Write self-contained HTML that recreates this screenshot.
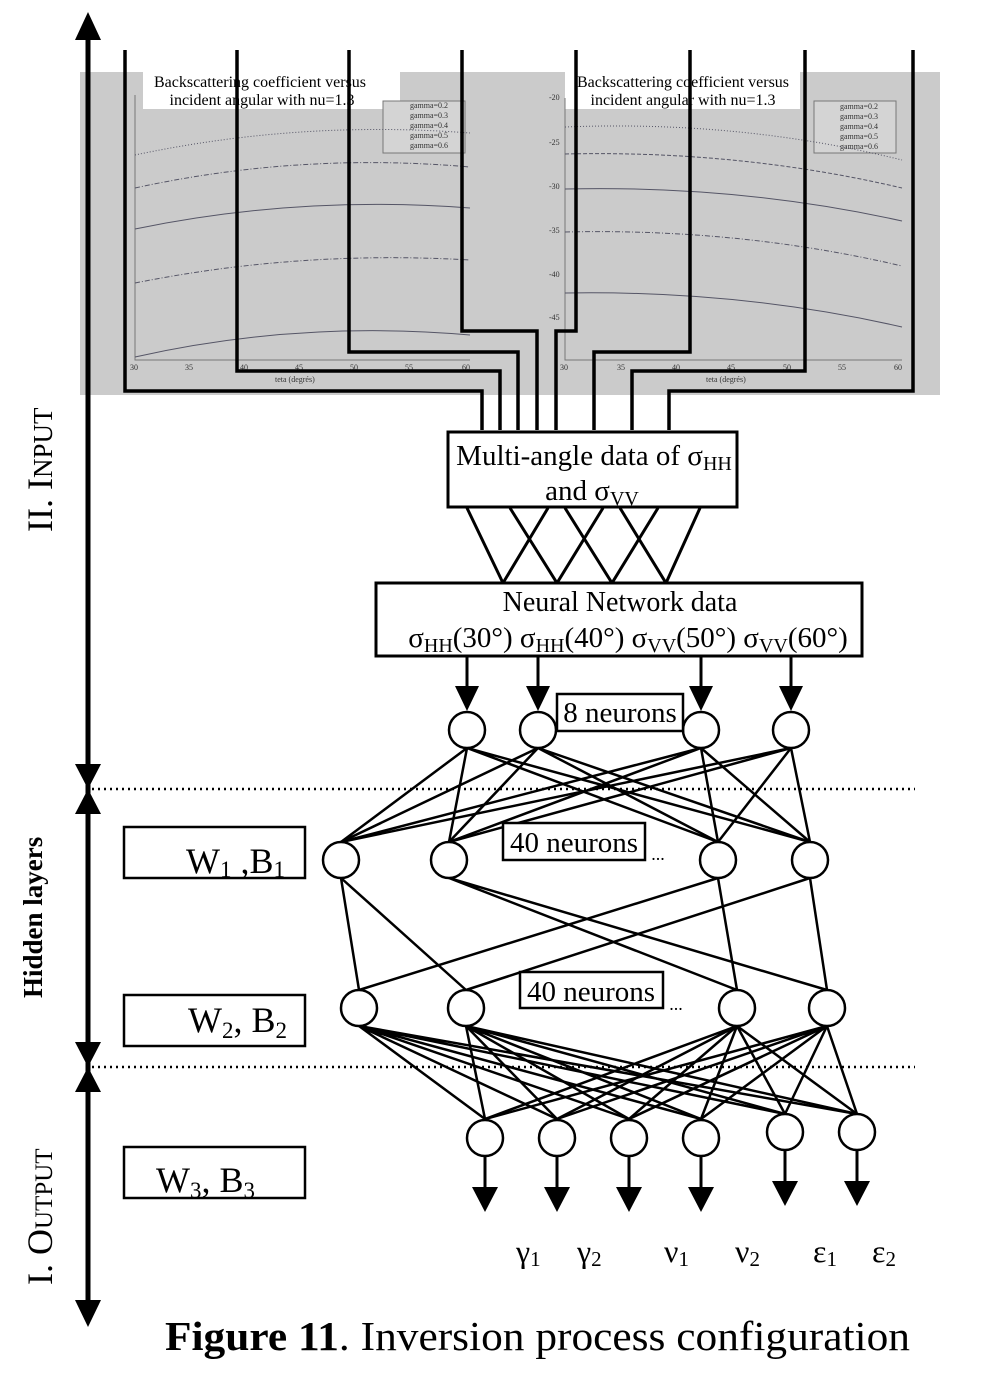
<!DOCTYPE html>
<html><head><meta charset="utf-8"><style>
html,body{margin:0;padding:0;background:#fff}
svg{display:block}
text{font-family:"Liberation Serif",serif}
</style></head><body>
<svg width="1000" height="1382" viewBox="0 0 1000 1382" xmlns="http://www.w3.org/2000/svg">
<rect x="80" y="72" width="860" height="323" fill="#cbcbcb"/>
<rect x="143" y="72" width="257" height="37" fill="#fff"/>
<rect x="565" y="72" width="235" height="37" fill="#fff"/>
<g font-size="16" text-anchor="middle" fill="#000">
<text x="260" y="87">Backscattering coefficient versus</text>
<text x="262" y="105">incident angular with nu=1.3</text>
<text x="683" y="87">Backscattering coefficient versus</text>
<text x="683" y="105">incident angular with nu=1.3</text>
</g>
<g stroke="#777" stroke-width="1" fill="none">
<path d="M135,95V360H470"/><path d="M565,98V360H902"/>
<rect x="383" y="101" width="82" height="52" fill="#d4d4d4"/>
<rect x="814" y="101" width="82" height="52" fill="#d4d4d4"/>
</g>
<g font-family="Liberation Sans,sans-serif" font-size="8" fill="#333">
<text x="410" y="108">gamma=0.2</text><text x="410" y="118">gamma=0.3</text><text x="410" y="128">gamma=0.4</text><text x="410" y="138">gamma=0.5</text><text x="410" y="148">gamma=0.6</text>
<text x="840" y="109">gamma=0.2</text><text x="840" y="119">gamma=0.3</text><text x="840" y="129">gamma=0.4</text><text x="840" y="139">gamma=0.5</text><text x="840" y="149">gamma=0.6</text>
<text x="275" y="382">teta (degrés)</text><text x="706" y="382">teta (degrés)</text>
<text x="130" y="370">30</text><text x="185" y="370">35</text><text x="240" y="370">40</text><text x="295" y="370">45</text><text x="350" y="370">50</text><text x="405" y="370">55</text><text x="462" y="370">60</text>
<text x="560" y="370">30</text><text x="617" y="370">35</text><text x="672" y="370">40</text><text x="727" y="370">45</text><text x="783" y="370">50</text><text x="838" y="370">55</text><text x="894" y="370">60</text>
<text x="549" y="100">-20</text><text x="549" y="145">-25</text><text x="549" y="189">-30</text><text x="549" y="233">-35</text><text x="549" y="277">-40</text><text x="549" y="320">-45</text>
</g>
<g stroke="#556" stroke-width="1" fill="none">
<path d="M135,155Q300,120 470,133" stroke-dasharray="1,2"/>
<path d="M135,188Q300,152 470,167" stroke-dasharray="5,2,1,2"/>
<path d="M135,229Q300,195 470,208"/>
<path d="M135,283Q300,250 470,260" stroke-dasharray="5,2,1,2"/>
<path d="M135,357Q300,320 470,335"/>
<path d="M565,127Q740,120 902,160" stroke-dasharray="1,2"/>
<path d="M565,154Q740,150 902,188" stroke-dasharray="4,2"/>
<path d="M565,189Q740,185 902,221"/>
<path d="M565,232Q740,228 902,266" stroke-dasharray="5,2,1,2"/>
<path d="M565,293Q740,290 902,327"/>
</g>
<g stroke="#000" stroke-width="3.5" fill="none">
<path d="M125,50V391H482V430"/>
<path d="M237,50V371H500V430"/>
<path d="M349,50V352H518V430"/>
<path d="M462,50V331H537V430"/>
<path d="M576,50V331H556V430"/>
<path d="M690,50V352H594V430"/>
<path d="M805,50V371H632V430"/>
<path d="M913,50V391H669V430"/>
</g>
<rect x="448" y="432" width="289" height="75" fill="#fff" stroke="#000" stroke-width="3"/>
<text x="594" y="465" font-size="29" text-anchor="middle">Multi-angle data of σ<tspan font-size="20" dy="5">HH</tspan></text>
<text x="592" y="500" font-size="29" text-anchor="middle">and σ<tspan font-size="20" dy="5">VV</tspan></text>
<g stroke="#000" stroke-width="3" fill="none">
<path d="M467,508L503,583L548,508"/><path d="M510,508L557,583L603,508"/><path d="M565,508L612,583L658,508"/><path d="M620,508L666,583L700,508"/>
</g>
<rect x="376" y="583" width="486" height="73" fill="#fff" stroke="#000" stroke-width="3"/>
<text x="620" y="611" font-size="28" text-anchor="middle">Neural Network data</text>
<text x="628" y="647" font-size="29" text-anchor="middle">σ<tspan font-size="20" dy="5">HH</tspan><tspan dy="-5">(30°) σ</tspan><tspan font-size="20" dy="5">HH</tspan><tspan dy="-5">(40°) σ</tspan><tspan font-size="20" dy="5">VV</tspan><tspan dy="-5">(50°) σ</tspan><tspan font-size="20" dy="5">VV</tspan><tspan dy="-5">(60°)</tspan></text>
<g stroke="#000" stroke-width="3">
<line x1="467" y1="656" x2="467" y2="690"/><line x1="538" y1="656" x2="538" y2="690"/><line x1="701" y1="656" x2="701" y2="690"/><line x1="791" y1="656" x2="791" y2="690"/>
</g>
<g fill="#000">
<path d="M455,686H479L467,711z"/><path d="M526,686H550L538,711z"/><path d="M689,686H713L701,711z"/><path d="M779,686H803L791,711z"/>
</g>
<g stroke="#000" stroke-width="2.5" fill="none">
<path d="M467,748L341,842M467,748L449,842M467,748L718,842M467,748L810,842"/>
<path d="M538,748L341,842M538,748L449,842M538,748L718,842M538,748L810,842"/>
<path d="M701,748L341,842M701,748L449,842M701,748L718,842M701,748L810,842"/>
<path d="M791,748L341,842M791,748L449,842M791,748L718,842M791,748L810,842"/>
<path d="M341,878L359,990M341,878L466,990M449,878L827,990M449,878L737,990M718,878L359,990M718,878L737,990M810,878L466,990M810,878L827,990"/>
<path d="M359,1026L485,1119M359,1026L557,1119M359,1026L629,1119M359,1026L701,1119M359,1026L785,1114M359,1026L857,1114"/>
<path d="M466,1026L485,1119M466,1026L557,1119M466,1026L629,1119M466,1026L701,1119M466,1026L785,1114M466,1026L857,1114"/>
<path d="M737,1026L485,1119M737,1026L557,1119M737,1026L629,1119M737,1026L701,1119M737,1026L785,1114M737,1026L857,1114"/>
<path d="M827,1026L485,1119M827,1026L557,1119M827,1026L629,1119M827,1026L701,1119M827,1026L785,1114M827,1026L857,1114"/>
</g>
<g fill="#fff" stroke="#000" stroke-width="2.5">
<circle cx="467" cy="730" r="18"/><circle cx="538" cy="730" r="18"/><circle cx="701" cy="730" r="18"/><circle cx="791" cy="730" r="18"/>
<circle cx="341" cy="860" r="18"/><circle cx="449" cy="860" r="18"/><circle cx="718" cy="860" r="18"/><circle cx="810" cy="860" r="18"/>
<circle cx="359" cy="1008" r="18"/><circle cx="466" cy="1008" r="18"/><circle cx="737" cy="1008" r="18"/><circle cx="827" cy="1008" r="18"/>
<circle cx="485" cy="1138" r="18"/><circle cx="557" cy="1138" r="18"/><circle cx="629" cy="1138" r="18"/><circle cx="701" cy="1138" r="18"/><circle cx="785" cy="1132" r="18"/><circle cx="857" cy="1132" r="18"/>
</g>
<g stroke="#000" stroke-width="3">
<line x1="485" y1="1156" x2="485" y2="1190"/><line x1="557" y1="1156" x2="557" y2="1190"/><line x1="629" y1="1156" x2="629" y2="1190"/><line x1="701" y1="1156" x2="701" y2="1190"/><line x1="785" y1="1150" x2="785" y2="1184"/><line x1="857" y1="1150" x2="857" y2="1184"/>
</g>
<g fill="#000">
<path d="M472,1187H498L485,1212z"/><path d="M544,1187H570L557,1212z"/><path d="M616,1187H642L629,1212z"/><path d="M688,1187H714L701,1212z"/><path d="M772,1181H798L785,1206z"/><path d="M844,1181H870L857,1206z"/>
</g>
<g fill="#fff" stroke="#000" stroke-width="2.5">
<rect x="557" y="694" width="126" height="37"/><rect x="503" y="823" width="142" height="37"/><rect x="520" y="972" width="143" height="36"/>
</g>
<g font-size="29" text-anchor="middle">
<text x="620" y="722">8 neurons</text><text x="574" y="852">40 neurons</text><text x="591" y="1001">40 neurons</text>
<text x="658" y="860" font-size="18">...</text><text x="676" y="1010" font-size="18">...</text>
</g>
<g stroke="#000" stroke-width="2.5" stroke-dasharray="2,4">
<line x1="92" y1="789" x2="915" y2="789"/><line x1="92" y1="1067" x2="915" y2="1067"/>
</g>
<line x1="88" y1="35" x2="88" y2="1305" stroke="#000" stroke-width="5"/>
<g fill="#000">
<path d="M75,40L88,12L101,40z"/>
<path d="M75,764L88,789L101,764z"/><path d="M75,814L88,789L101,814z"/>
<path d="M75,1042L88,1067L101,1042z"/><path d="M75,1092L88,1067L101,1092z"/>
<path d="M75,1300L88,1327L101,1300z"/>
</g>
<g fill="#fff" stroke="#000" stroke-width="2.5">
<rect x="124" y="827" width="181" height="51"/><rect x="124" y="995" width="181" height="51"/><rect x="124" y="1147" width="181" height="51"/>
</g>
<g font-size="36">
<text x="186" y="873">W<tspan font-size="23" dy="4">1</tspan><tspan dy="-4"> ,B</tspan><tspan font-size="23" dy="4">1</tspan></text>
<text x="188" y="1032">W<tspan font-size="23" dy="6">2</tspan><tspan dy="-6">, B</tspan><tspan font-size="23" dy="6">2</tspan></text>
<text x="156" y="1192">W<tspan font-size="23" dy="6">3</tspan><tspan dy="-6">, B</tspan><tspan font-size="23" dy="6">3</tspan></text>
</g>
<text transform="translate(52,532) rotate(-90)" font-size="36">II. I<tspan font-size="27">NPUT</tspan></text>
<text transform="translate(42,998) rotate(-90)" font-size="27" font-weight="bold">Hidden layers</text>
<text transform="translate(52,1285) rotate(-90)" font-size="36">I.  O<tspan font-size="25">UTPUT</tspan></text>
<g font-size="32">
<text x="516" y="1262">γ<tspan font-size="21" dy="4">1</tspan></text>
<text x="577" y="1262">γ<tspan font-size="21" dy="4">2</tspan></text>
<text x="664" y="1262">ν<tspan font-size="21" dy="4">1</tspan></text>
<text x="735" y="1262">ν<tspan font-size="21" dy="4">2</tspan></text>
<text x="813" y="1262">ε<tspan font-size="21" dy="4">1</tspan></text>
<text x="872" y="1262">ε<tspan font-size="21" dy="4">2</tspan></text>
</g>
<text x="165" y="1350" font-size="41" textLength="745" lengthAdjust="spacingAndGlyphs"><tspan font-weight="bold">Figure 11</tspan>.  Inversion process configuration</text>
</svg>
</body></html>
